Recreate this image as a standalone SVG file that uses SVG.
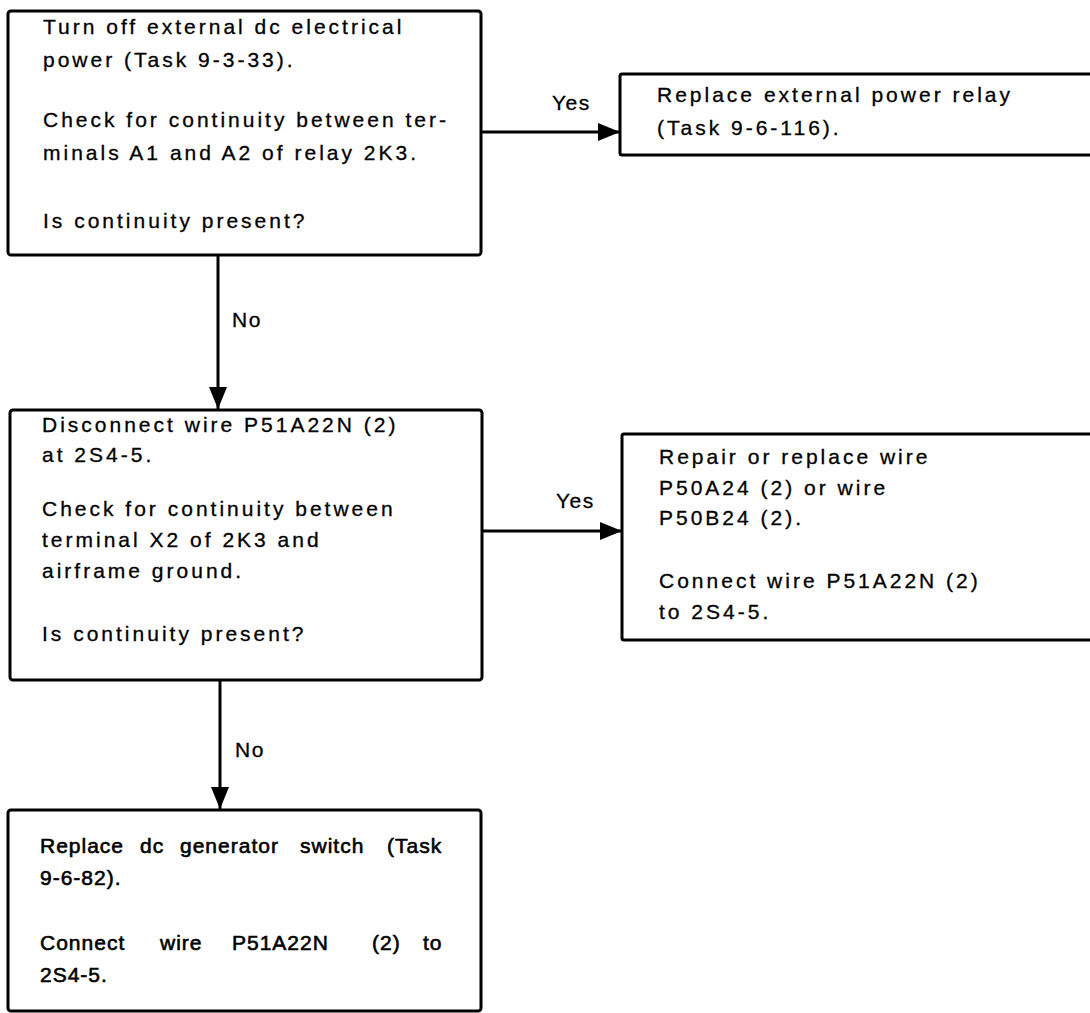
<svg xmlns="http://www.w3.org/2000/svg" width="1090" height="1013" viewBox="0 0 1090 1013">
<style>
.box{fill:#fff;stroke:#000;stroke-width:3}
.t{font-family:"Liberation Sans",Arial,sans-serif;font-size:21px;letter-spacing:3px;fill:#000;stroke:#000;stroke-width:0.3}
.b{font-family:"Liberation Sans",Arial,sans-serif;font-size:21px;letter-spacing:1px;fill:#000;stroke:#000;stroke-width:0.6}
.lbl{font-family:"Liberation Sans",Arial,sans-serif;font-size:21px;letter-spacing:1.5px;fill:#000;stroke:#000;stroke-width:0.3}
.c{fill:none;stroke:#000;stroke-width:3}
</style>
<defs>
<marker id="ah" viewBox="0 0 22 18" refX="22" refY="9" markerWidth="22" markerHeight="18" markerUnits="userSpaceOnUse" orient="auto">
<path d="M0,0 L22,9 L0,18 z" fill="#000"/>
</marker>
</defs>
<rect width="1090" height="1013" fill="#fff"/>
<g id="connectors">
<line class="c" x1="481" y1="132" x2="620" y2="132" marker-end="url(#ah)"/>
<text class="lbl" x="552" y="110">Yes</text>
<line class="c" x1="218" y1="255" x2="218" y2="409" marker-end="url(#ah)"/>
<text class="lbl" x="232" y="327">No</text>
<line class="c" x1="482" y1="531" x2="622" y2="531" marker-end="url(#ah)"/>
<text class="lbl" x="556" y="508">Yes</text>
<line class="c" x1="220" y1="680" x2="220" y2="809" marker-end="url(#ah)"/>
<text class="lbl" x="235" y="757">No</text>
</g>
<g id="n1">
<rect class="box" x="8" y="11" width="473" height="244" rx="3"/>
<text class="t" x="43" y="34">Turn off external dc electrical</text>
<text class="t" x="43" y="67">power (Task 9-3-33).</text>
<text class="t" x="43" y="127">Check for continuity between ter-</text>
<text class="t" x="43" y="160">minals A1 and A2 of relay 2K3.</text>
<text class="t" x="43" y="228">Is continuity present?</text>
</g>
<g id="n2">
<rect class="box" x="620" y="74" width="480" height="81" rx="2"/>
<text class="t" x="657" y="102">Replace external power relay</text>
<text class="t" x="657" y="135">(Task 9-6-116).</text>
</g>
<g id="n3">
<rect class="box" x="10" y="410" width="472" height="270" rx="3"/>
<text class="t" x="42" y="432">Disconnect wire P51A22N (2)</text>
<text class="t" x="42" y="462">at 2S4-5.</text>
<text class="t" x="42" y="516">Check for continuity between</text>
<text class="t" x="42" y="547">terminal X2 of 2K3 and</text>
<text class="t" x="42" y="578">airframe ground.</text>
<text class="t" x="42" y="641">Is continuity present?</text>
</g>
<g id="n4">
<rect class="box" x="622" y="434" width="480" height="206" rx="2"/>
<text class="t" x="659" y="464">Repair or replace wire</text>
<text class="t" x="659" y="495">P50A24 (2) or wire</text>
<text class="t" x="659" y="525">P50B24 (2).</text>
<text class="t" x="659" y="588">Connect wire P51A22N (2)</text>
<text class="t" x="659" y="619">to 2S4-5.</text>
</g>
<g id="n5">
<rect class="box" x="8" y="810" width="473" height="201" rx="3"/>
<text class="b" y="853"><tspan x="40">Replace</tspan> <tspan x="140">dc</tspan> <tspan x="180">generator</tspan> <tspan x="300">switch</tspan> <tspan x="387">(Task</tspan></text>
<text class="b" x="40" y="885">9-6-82).</text>
<text class="b" y="950"><tspan x="40">Connect</tspan> <tspan x="160">wire</tspan> <tspan x="232">P51A22N</tspan> <tspan x="372">(2)</tspan> <tspan x="423">to</tspan></text>
<text class="b" x="40" y="982">2S4-5.</text>
</g>
</svg>
